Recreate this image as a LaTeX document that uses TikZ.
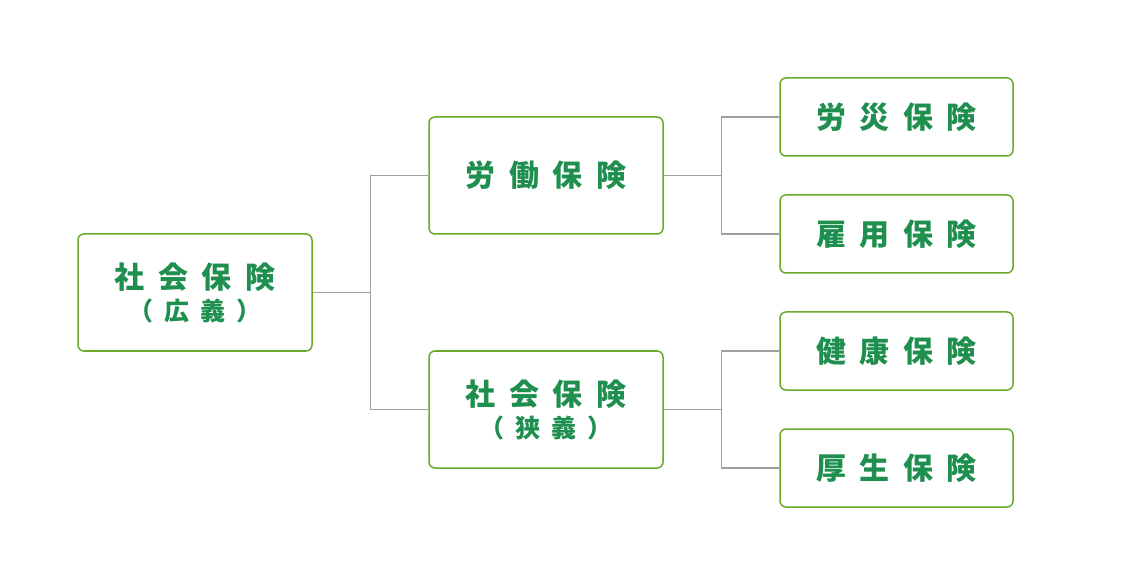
\documentclass[tikz,border=0pt]{standalone}
\usepackage{fontspec}
\newfontfamily\cjk[LetterSpace=45]{Noto Sans CJK JP}
\usetikzlibrary{positioning}
\definecolor{boxgreen}{HTML}{6AAA2A}
\definecolor{textgreen}{HTML}{1E8F4E}
\newcommand\subtext{\cjk\bfseries\fontsize{25}{30}\selectfont}
\tikzset{
  ins/.style={draw=boxgreen, line width=1.5pt, rounded corners=6pt, fill=white,
    minimum width=234pt, minimum height=117pt, align=center,
    text=textgreen, font=\cjk\bfseries\fontsize{30}{40}\selectfont},
  leaf/.style={ins, minimum width=233pt, minimum height=78pt},
  link/.style={draw=gray!75, line width=1.2pt}
}
\begin{document}
\begin{tikzpicture}[x=1pt,y=-1pt]
  \useasboundingbox (0,0) rectangle (1130,585);
  \node[ins] (kogi) at (195,292.5) {社会保険\\[-8pt]{\subtext（広義）}};
  \node[ins] (rodo) at (546,175.5) {労働保険};
  \node[ins] (kyogi) at (546,409.5) {社会保険\\[-8pt]{\subtext（狭義）}};
  \node[leaf] (rosai) at (896.5,117) {労災保険};
  \node[leaf] (koyo) at (896.5,234) {雇用保険};
  \node[leaf] (kenko) at (896.5,351) {健康保険};
  \node[leaf] (kosei) at (896.5,468) {厚生保険};
  % tree links
  \draw[link] (kogi.east) -- ++(58,0) coordinate (b1);
  \draw[link] (rodo.west) -| (b1) |- (kyogi.west);
  \draw[link] (rodo.east) -- ++(58,0) coordinate (b2);
  \draw[link] (rosai.west) -| (b2) |- (koyo.west);
  \draw[link] (kyogi.east) -- ++(58,0) coordinate (b3);
  \draw[link] (kenko.west) -| (b3) |- (kosei.west);
\end{tikzpicture}
\end{document}
